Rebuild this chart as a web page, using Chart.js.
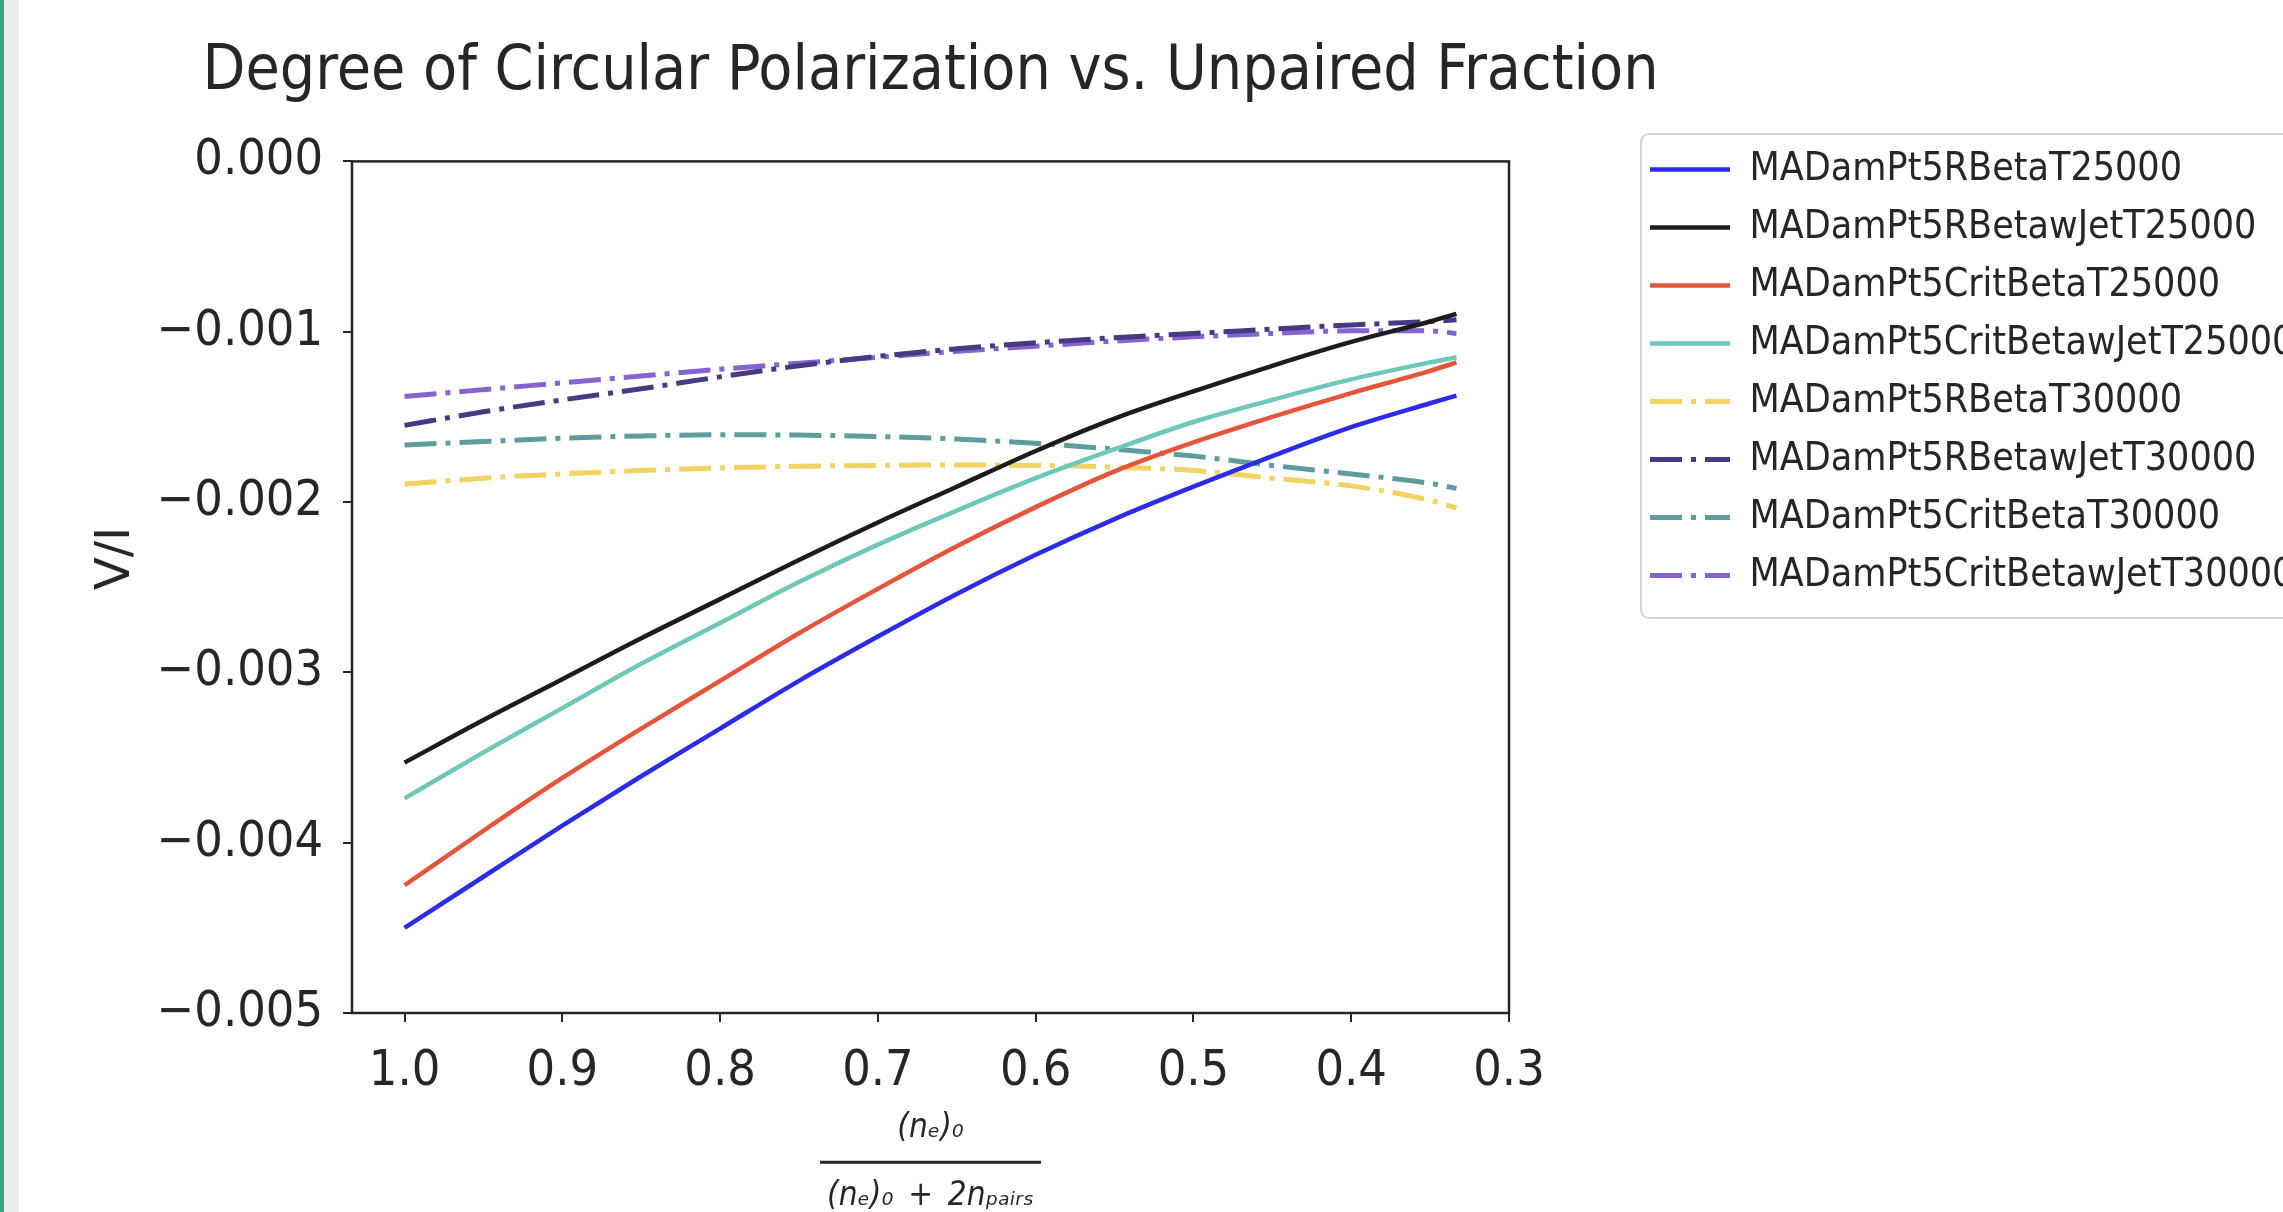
<!DOCTYPE html>
<html>
<head>
<meta charset="utf-8">
<title>Degree of Circular Polarization vs. Unpaired Fraction</title>
<script src="https://cdn.jsdelivr.net/npm/chart.js@4.4.1/dist/chart.umd.min.js"></script>
<style>
  html, body { margin: 0; padding: 0; background: #fff; overflow: hidden; }
  .wrap { position: relative; width: 2283px; height: 1212px; }
  .edge { position: absolute; left: 0; top: 0; width: 4px; height: 1212px; background: #3ba27b; border-right: 15px solid #ececec; }
  canvas { position: absolute; left: 0; top: 0; }
</style>
</head>
<body>
<div class="wrap">
  <canvas id="chart" width="2283" height="1212"></canvas>
  <div class="edge"></div>
</div>
<script>
// unpaired fraction (n_e)_0 / ((n_e)_0 + 2 n_pairs)
const fraction = [1.0, 0.95, 0.9, 0.85, 0.8, 0.75, 0.7, 0.65, 0.6, 0.55, 0.5, 0.45, 0.4, 0.35, 0.3333];

// V/I for each model
const rBetaT25 = [-0.00450, -0.00420, -0.00390, -0.00361, -0.00333, -0.00305, -0.00279, -0.00254, -0.00231, -0.00210, -0.00191, -0.00173, -0.00156, -0.00142, -0.001375];
const rBetaJetT25 = [-0.00353, -0.00328, -0.00304, -0.00280, -0.00257, -0.00234, -0.00212, -0.00191, -0.00170, -0.00151, -0.00135, -0.00120, -0.00106, -0.00094, -0.000895];
const critBetaT25 = [-0.00425, -0.00393, -0.00362, -0.00333, -0.00305, -0.00277, -0.00251, -0.00226, -0.00203, -0.00182, -0.00165, -0.00150, -0.00136, -0.00123, -0.00118];
const critBetaJetT25 = [-0.00374, -0.00347, -0.00321, -0.00295, -0.00271, -0.00247, -0.00225, -0.00205, -0.00186, -0.00169, -0.00153, -0.00140, -0.00128, -0.00118, -0.00115];
const rBetaT30 = [-0.001895, -0.00186, -0.001835, -0.001815, -0.00180, -0.00179, -0.001785, -0.001783, -0.001785, -0.001795, -0.001815, -0.00186, -0.001905, -0.00199, -0.002035];
const rBetaJetT30 = [-0.00155, -0.00147, -0.00140, -0.001335, -0.001265, -0.00120, -0.001145, -0.00110, -0.001065, -0.001035, -0.00101, -0.000985, -0.00096, -0.00094, -0.00093];
const critBetaT30 = [-0.001665, -0.001645, -0.001625, -0.001612, -0.001605, -0.001607, -0.001615, -0.00163, -0.001655, -0.00169, -0.00173, -0.001785, -0.001835, -0.00189, -0.00192];
const critBetaJetT30 = [-0.00138, -0.00134, -0.00130, -0.00126, -0.00122, -0.001185, -0.00115, -0.001115, -0.001085, -0.001055, -0.00103, -0.00101, -0.000995, -0.000995, -0.00101];

const xTicks = [1.0, 0.9, 0.8, 0.7, 0.6, 0.5, 0.4, 0.3];
const yTicks = [0, -0.001, -0.002, -0.003, -0.004, -0.005];

const cond = '"DejaVu Sans Condensed", "DejaVu Sans", sans-serif';
const ink = '#262626';
const dashDot = [32, 9, 5, 9];

const pairs = ys => fraction.map((x, i) => ({ x: x, y: ys[i] }));

function series(label, color, ys, dash) {
  return {
    label: label,
    data: pairs(ys),
    borderColor: color,
    backgroundColor: color,
    borderWidth: dash ? 5 : 4.5,
    borderDash: dash || [],
    pointRadius: 0,
    cubicInterpolationMode: 'monotone'
  };
}

// legend samples as line pieces with the dataset's own dash
function legendLabels(chart) {
  return Chart.defaults.plugins.legend.labels.generateLabels(chart).map(item => {
    const ds = chart.data.datasets[item.datasetIndex];
    item.strokeStyle = ds.borderColor;
    item.lineWidth = ds.borderWidth;
    item.lineDash = ds.borderDash;
    return item;
  });
}

// legend box right of the axes, title wider than the axes
const placement = {
  id: 'placement',
  afterLayout(chart) {
    const lg = chart.legend;
    lg.left = 1631;
    lg.top = 131;
    lg.right = chart.width + 400;
    lg.bottom = 700;

    const a = chart.chartArea;
    const tb = chart.titleBlock;
    const c = (a.left + a.right) / 2;
    tb.left = c - 900;
    tb.right = c + 900;
    tb.width = 1800;
  },
  beforeDraw(chart) {
    const ctx = chart.ctx;
    ctx.save();
    ctx.fillStyle = '#fff';
    ctx.fillRect(0, 0, chart.width, chart.height);
    // legend frame
    const x = 1641, y = 134, w = 800, h = 484, r = 8;
    ctx.beginPath();
    ctx.moveTo(x + r, y);
    ctx.arcTo(x + w, y, x + w, y + h, r);
    ctx.arcTo(x + w, y + h, x, y + h, r);
    ctx.arcTo(x, y + h, x, y, r);
    ctx.arcTo(x, y, x + w, y, r);
    ctx.closePath();
    ctx.strokeStyle = '#d4d4d4';
    ctx.lineWidth = 2;
    ctx.stroke();
    ctx.restore();
  },
  afterDraw(chart) {
    const { ctx, chartArea: a } = chart;
    ctx.save();
    ctx.strokeStyle = ink;
    ctx.lineWidth = 2.5;
    ctx.strokeRect(a.left, a.top, a.right - a.left, a.bottom - a.top);

    // fraction bar of the x axis label
    const xs = chart.scales.x;
    const t = xs.options.title;
    const f = Chart.helpers.toFont(t.font);
    ctx.font = f.string;
    const w = ctx.measureText(t.text[1]).width + 14;
    const cx = (a.left + a.right) / 2;
    const by = xs.bottom - t.padding.bottom - f.lineHeight;
    ctx.lineWidth = 3;
    ctx.beginPath();
    ctx.moveTo(cx - w / 2, by);
    ctx.lineTo(cx + w / 2, by);
    ctx.stroke();
    ctx.restore();
  }
};

new Chart(document.getElementById('chart'), {
  type: 'line',
  data: {
    datasets: [
      series('MADamPt5RBetaT25000', '#2b2be8', rBetaT25),
      series('MADamPt5RBetawJetT25000', '#1c1c1c', rBetaJetT25),
      series('MADamPt5CritBetaT25000', '#e4553c', critBetaT25),
      series('MADamPt5CritBetawJetT25000', '#6dc8b7', critBetaJetT25),
      series('MADamPt5RBetaT30000', '#f3d264', rBetaT30, dashDot),
      series('MADamPt5RBetawJetT30000', '#483a82', rBetaJetT30, dashDot),
      series('MADamPt5CritBetaT30000', '#5e9ca0', critBetaT30, dashDot),
      series('MADamPt5CritBetawJetT30000', '#8663cf', critBetaJetT30, dashDot)
    ]
  },
  options: {
    responsive: false,
    animation: false,
    devicePixelRatio: 1,
    layout: { padding: { left: 0, right: 774, top: 0, bottom: 0 } },
    plugins: {
      title: {
        display: true,
        text: 'Degree of Circular Polarization vs. Unpaired Fraction',
        color: ink,
        fullSize: false,
        font: { family: cond, size: 62, weight: 'normal' },
        padding: { top: 36, bottom: 51 }
      },
      legend: {
        position: 'chartArea',
        align: 'start',
        labels: {
          color: ink,
          font: { family: cond, size: 39 },
          usePointStyle: true,
          pointStyle: 'line',
          pointStyleWidth: 80,
          padding: 19,
          generateLabels: legendLabels
        }
      },
      tooltip: { enabled: false }
    },
    scales: {
      x: {
        type: 'linear',
        reverse: true,
        min: 0.3,
        max: 1.0333,
        afterFit: s => { s.height = 199; },
        afterBuildTicks: s => { s.ticks = xTicks.map(v => ({ value: v })); },
        ticks: {
          color: ink,
          font: { family: cond, size: 50 },
          padding: 20,
          maxRotation: 0,
          autoSkip: false,
          callback: v => v.toFixed(1)
        },
        grid: { drawOnChartArea: false, tickLength: 9, color: ink, lineWidth: 2 },
        border: { display: false },
        title: {
          display: true,
          text: ['(n\u2091)\u2080', '(n\u2091)\u2080\u2002+\u20022n\u209a\u2090\u1d62\u1d63\u209b'],
          color: ink,
          font: { family: cond, size: 33, style: 'italic', lineHeight: 2.05 },
          padding: { top: 0, bottom: -18 }
        }
      },
      y: {
        type: 'linear',
        min: -0.005,
        max: 0,
        afterFit: s => { s.width = 352; },
        afterBuildTicks: s => { s.ticks = yTicks.map(v => ({ value: v })); },
        ticks: {
          color: ink,
          font: { family: cond, size: 50 },
          padding: 20,
          callback: v => (v < 0 ? '\u2212' : '') + Math.abs(v).toFixed(3)
        },
        grid: { drawOnChartArea: false, tickLength: 9, color: ink, lineWidth: 2 },
        border: { display: false },
        title: {
          display: true,
          text: '\u2003\u2009V/I',
          color: ink,
          font: { family: '"DejaVu Sans", sans-serif', size: 48 },
          padding: { top: 88, bottom: 0 }
        }
      }
    }
  },
  plugins: [placement]
});
</script>
</body>
</html>
